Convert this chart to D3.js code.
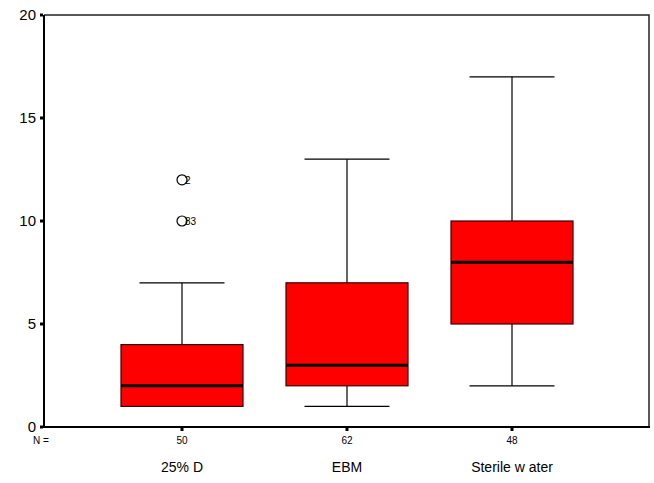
<!DOCTYPE html>
<html>
<head>
<meta charset="utf-8">
<script src="https://cdn.jsdelivr.net/npm/d3@7"></script>
<style>
  body { margin: 0; background: #fff; }
  text { font-family: "Liberation Sans", Arial, sans-serif; }
</style>
</head>
<body>
<svg width="654" height="483"></svg>
<script>
// data
const categories = ['25% D', 'EBM', 'Sterile w ater'];
const counts = [50, 62, 48];
const lowWhisker = [1, 1, 2];
const q1 = [1, 2, 5];
const medians = [2, 3, 8];
const q3 = [4, 7, 10];
const highWhisker = [7, 13, 17];
const outlierValues = [12, 10];
const outlierCats = ['25% D', '25% D'];
const outlierLabels = ['2', '83'];
const yTicks = [0, 5, 10, 15, 20];

const svg = d3.select('svg');
const plotLeft = 44, plotRight = 649, plotTop = 15, plotBottom = 427;

const y = d3.scaleLinear().domain([0, 20]).range([plotBottom, plotTop]);
const x = d3.scalePoint().domain(categories).range([182, 512]);
const boxW = 122, capW = 85;

// frame (top + right thin)
svg.append('path')
    .attr('d', `M${plotLeft},${plotTop}H${plotRight}V${plotBottom}`)
    .attr('fill', 'none')
    .attr('stroke', '#222')
    .attr('stroke-width', 1.5);

// y axis
svg.append('line')
    .attr('x1', plotLeft).attr('x2', plotLeft).attr('y1', plotTop).attr('y2', plotBottom + 1)
    .attr('stroke', '#000').attr('stroke-width', 2);
yTicks.forEach(t => {
    svg.append('rect')
        .attr('x', plotLeft - 4).attr('y', y(t) - 1.5)
        .attr('width', 3).attr('height', 3).attr('fill', '#000');
    svg.append('text')
        .attr('x', plotLeft - 8).attr('y', y(t) + 5)
        .attr('text-anchor', 'end')
        .attr('font-size', '15px')
        .text(t);
});

// x axis
svg.append('line')
    .attr('x1', plotLeft).attr('x2', plotRight + 1).attr('y1', plotBottom).attr('y2', plotBottom)
    .attr('stroke', '#000').attr('stroke-width', 2);
categories.forEach((c, i) => {
    svg.append('rect')
        .attr('x', x(c) - 1.5).attr('y', plotBottom + 1)
        .attr('width', 3).attr('height', 3).attr('fill', '#000');
    svg.append('text')
        .attr('x', x(c)).attr('y', plotBottom + 17)
        .attr('text-anchor', 'middle')
        .attr('font-size', '10px')
        .text(counts[i]);
    svg.append('text')
        .attr('x', x(c)).attr('y', plotBottom + 45)
        .attr('text-anchor', 'middle')
        .attr('font-size', '14px')
        .text(c);
});
svg.append('text')
    .attr('x', 33).attr('y', plotBottom + 17)
    .attr('font-size', '10px')
    .text('N =');

// boxes
categories.forEach((c, i) => {
    const cx = x(c);
    const g = svg.append('g');
    g.append('line')
        .attr('x1', cx).attr('x2', cx)
        .attr('y1', y(highWhisker[i])).attr('y2', y(lowWhisker[i]))
        .attr('stroke', '#000').attr('stroke-width', 1.2);
    [lowWhisker[i], highWhisker[i]].forEach(v => {
        g.append('line')
            .attr('x1', cx - capW / 2).attr('x2', cx + capW / 2)
            .attr('y1', y(v)).attr('y2', y(v))
            .attr('stroke', '#000').attr('stroke-width', 1.2);
    });
    g.append('rect')
        .attr('x', cx - boxW / 2).attr('width', boxW)
        .attr('y', y(q3[i])).attr('height', y(q1[i]) - y(q3[i]))
        .attr('fill', '#ff0000')
        .attr('stroke', '#3a0000').attr('stroke-width', 1.2);
    g.append('line')
        .attr('x1', cx - boxW / 2).attr('x2', cx + boxW / 2)
        .attr('y1', y(medians[i])).attr('y2', y(medians[i]))
        .attr('stroke', '#000').attr('stroke-width', 3);
});

// outliers
outlierValues.forEach((v, i) => {
    const cx = x(outlierCats[i]);
    svg.append('circle')
        .attr('cx', cx).attr('cy', y(v)).attr('r', 5)
        .attr('fill', 'none').attr('stroke', '#000').attr('stroke-width', 1.2);
    svg.append('text')
        .attr('x', cx + 3).attr('y', y(v) + 4)
        .attr('font-size', '10px')
        .text(outlierLabels[i]);
});
</script>
</body>
</html>
